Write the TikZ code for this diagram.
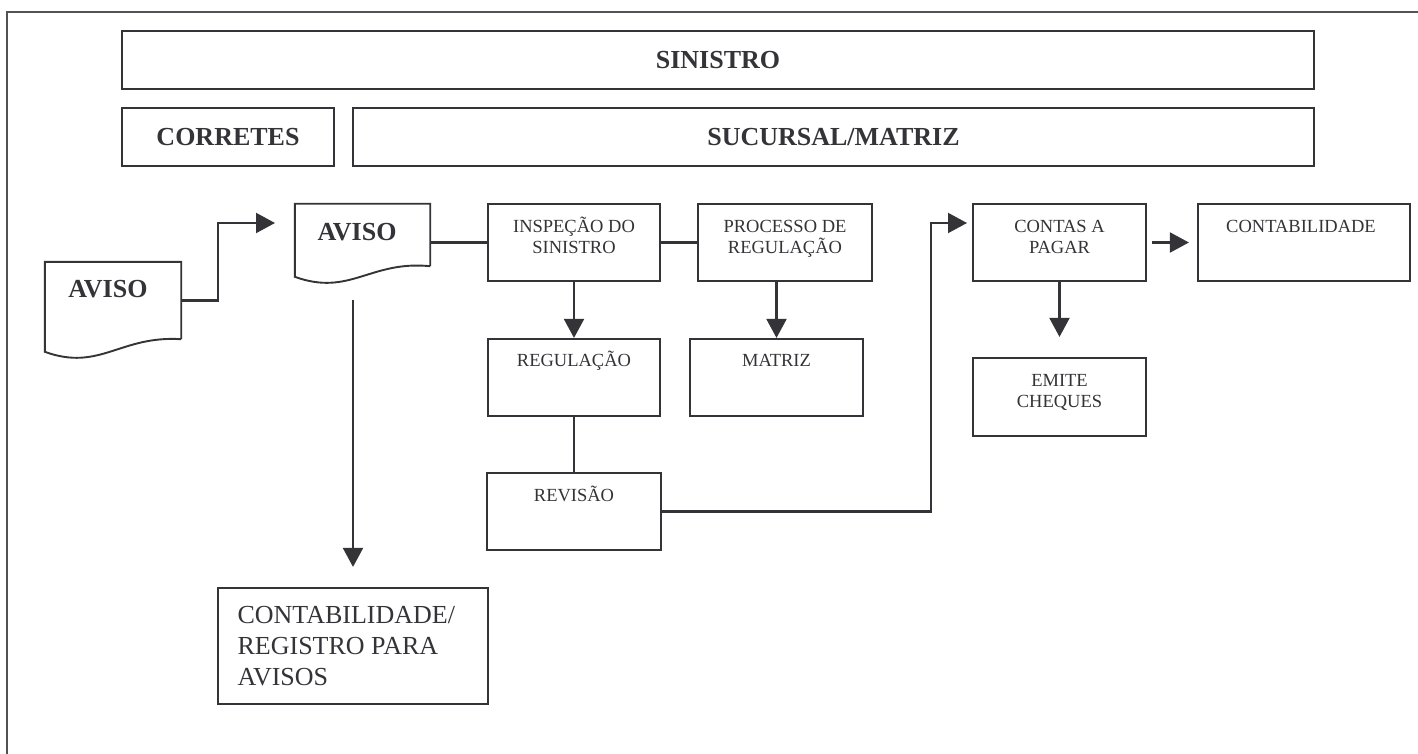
\documentclass[tikz,border=0pt]{standalone}
\usepackage{fontspec}
\setmainfont{Liberation Serif}
\usetikzlibrary{arrows.meta,calc}
\definecolor{ink}{RGB}{52,52,56}
\begin{document}
\begin{tikzpicture}[x=1pt,y=-1pt,
  box/.style={draw=ink, line width=2.2pt, inner sep=0pt, rectangle},
  docbox/.style={draw=none, inner sep=0pt, rectangle},
  head/.style={text=ink, inner sep=0pt, font=\bfseries\fontsize{26}{30}\selectfont},
  lbl/.style={anchor=north, inner sep=0pt, align=center, text=ink,
              font=\fontsize{18.5}{21}\selectfont},
  bigtxt/.style={anchor=north west, inner sep=0pt, align=left, text=ink,
                 font=\fontsize{26}{31}\selectfont},
  link/.style={draw=ink, line width=2.1pt},
  docline/.style={draw=ink, line width=1.9pt},
  arr/.style={link, -{Triangle[length=19pt,width=20pt]}}]

\fill[white] (0,0) rectangle (1418,754);
\useasboundingbox (0,0) rectangle (1418,754);

% outer frame (top and left edges)
\draw[draw=ink!85, line width=2pt] (7,754) -- (7,12.5) -- (1418,12.5);

% header bands
\node[box, minimum width=1192pt, minimum height=58pt] (sin) at (718,60) {};
\node[head] (sin-t) at (sin.center) {SINISTRO};
\node[box, minimum width=212pt, minimum height=58pt] (corr) at (228,137) {};
\node[head] (corr-t) at (corr.center) {CORRETES};
\node[box, minimum width=961pt, minimum height=58pt] (suc) at (833.5,137) {};
\node[head] (suc-t) at (suc.center) {SUCURSAL/MATRIZ};

% document shapes
\node[docbox, minimum width=136pt, minimum height=77pt] (avisoA) at (113,300.5) {};
\draw[docline] (avisoA.south east) -- (avisoA.north east) -- (avisoA.north west)
  -- ++(0,90) .. controls +(55,20) and +(-61,-4) .. (avisoA.south east);
\node[head] (avisoA-t) at (108,289) {AVISO};

\node[docbox, minimum width=135pt, minimum height=62pt] (avisoB) at (362.5,235) {};
\draw[docline] (avisoB.south east) -- (avisoB.north east) -- (avisoB.north west)
  -- ++(0,73) .. controls +(55,20) and +(-60,-6) .. (avisoB.south east);
\node[head] (avisoB-t) at (357,232) {AVISO};

% process boxes
\node[box, minimum width=172pt, minimum height=77pt] (insp) at (574,242.5) {};
\node[lbl] (insp-t) at ([yshift=-12pt]insp.north) {\rule{0pt}{17pt}INSPEÇÃO DO\\SINISTRO};
\node[box, minimum width=174pt, minimum height=77pt] (proc) at (785,242.5) {};
\node[lbl] (proc-t) at ([yshift=-12pt]proc.north) {\rule{0pt}{17pt}PROCESSO DE\\REGULAÇÃO};
\node[box, minimum width=172pt, minimum height=77pt] (reg) at (574,377.5) {};
\node[lbl] (reg-t) at ([yshift=-11pt]reg.north) {\rule{0pt}{17pt}REGULAÇÃO};
\node[box, minimum width=173pt, minimum height=77pt] (mat) at (776.5,377.5) {};
\node[lbl] (mat-t) at ([yshift=-11pt]mat.north) {\rule{0pt}{17pt}MATRIZ};
\node[box, minimum width=174pt, minimum height=77pt] (rev) at (574,511.5) {};
\node[lbl] (rev-t) at ([yshift=-12pt]rev.north) {\rule{0pt}{17pt}REVISÃO};
\node[box, minimum width=173pt, minimum height=77pt] (cp) at (1059.5,242.5) {};
\node[lbl] (cp-t) at ([yshift=-12pt]cp.north) {\rule{0pt}{17pt}CONTAS A\\PAGAR};
\node[box, minimum width=212pt, minimum height=77pt] (cont) at (1304,242.5) {};
\node[lbl] (cont-t) at ([yshift=-12pt,xshift=-3pt]cont.north) {\rule{0pt}{17pt}CONTABILIDADE};
\node[box, minimum width=173pt, minimum height=78pt] (emite) at (1059.5,397) {};
\node[lbl] (emite-t) at ([yshift=-12pt]emite.north) {\rule{0pt}{17pt}EMITE\\CHEQUES};
\node[box, minimum width=270pt, minimum height=116pt] (creg) at (353,646) {};
\node[bigtxt] (creg-t) at ([xshift=20.5pt,yshift=-12pt]creg.north west)
  {\rule{0pt}{24pt}CONTABILIDADE/\\REGISTRO PARA\\AVISOS};

% connector ends
\coordinate (avB-in) at (275,223);
\coordinate (avB-out) at (353,300);
\coordinate (cp-in) at (967,223);

% connectors
\draw[arr] (avisoA.east) -- ++(37,0) |- (avB-in);
\draw[link] (insp.west) -- (insp.west -| avisoB.east);
\draw[link] (insp.east) -- (proc.west);
\draw[arr] (insp.south) -- (reg.north);
\draw[arr] (proc.south -| mat.north) -- (mat.north);
\draw[link] (reg.south) -- (rev.north);
\draw[arr] (rev.east) -- ++(269,0) |- (cp-in);
\draw[arr] ([xshift=5pt]cp.east) -- ([xshift=-8pt]cont.west);
\draw[arr] (cp.south) -- ([yshift=20pt]emite.north);
\draw[arr] (avB-out) -- ([yshift=20pt]creg.north);
\end{tikzpicture}
\end{document}
